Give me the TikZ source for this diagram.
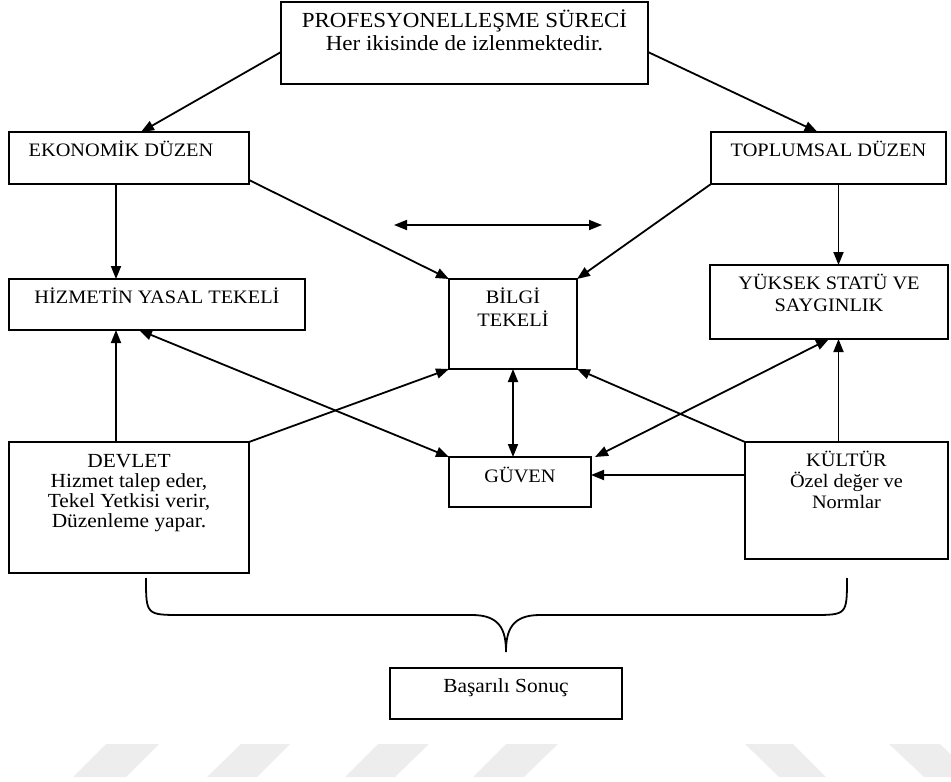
\documentclass[tikz,border=0pt]{standalone}
\usepackage{fontspec}
\setmainfont{Liberation Serif}[FakeStretch=1.07]
\usetikzlibrary{arrows.meta, calc}
\tikzset{
  box/.style={rectangle, draw, line width=1.8pt, inner sep=0pt, outer sep=0pt, anchor=north west, font=\fontsize{19}{21}\selectfont},
  arrow/.style={-{Triangle[length=13pt, width=10pt]}, line width=1.8pt},
  biarrow/.style={{Triangle[length=13pt, width=10pt]}-{Triangle[length=13pt, width=10pt]}, line width=1.8pt},
  bracket/.style={line width=1.8pt},
  stripe/.style={fill=black!7, draw=none},
}
\newcommand{\boxtext}[4][24pt]{\parbox[t][#3][t]{#2}{\centering\rule{0pt}{#1}#4\par}}

\begin{document}
\begin{tikzpicture}[x=1pt, y=-1pt]
  \useasboundingbox (0,0) rectangle (951,782);

  % faint stripes at the foot
  \fill[stripe] (106,744) -- (159,744) -- (126,777) -- (73,777) -- cycle;
  \fill[stripe] (241,744) -- (290,744) -- (257,777) -- (207,777) -- cycle;
  \fill[stripe] (378,744) -- (429,744) -- (395,777) -- (345,777) -- cycle;
  \fill[stripe] (506,744) -- (558,744) -- (524,777) -- (473,777) -- cycle;
  \fill[stripe] (745,744) -- (793,744) -- (826,777) -- (779,777) -- cycle;
  \fill[stripe] (889,744) -- (940,744) -- (975,777) -- (924,777) -- cycle;

  % boxes
  \node[box, font=\fontsize{21.5}{23}\selectfont] (proc) at (281,2)
    {\boxtext[25pt]{367pt}{82pt}{PROFESYONELLEŞME SÜRECİ\\Her ikisinde de izlenmektedir.}};
  \node[box] (ekon) at (9,132) {\boxtext{240pt}{52pt}{\hspace*{-16pt}EKONOMİK DÜZEN}};
  \node[box] (topl) at (711,132) {\boxtext{235pt}{52pt}{TOPLUMSAL DÜZEN}};
  \node[box] (hizm) at (9,279) {\boxtext{296pt}{51pt}{HİZMETİN YASAL TEKELİ}};
  \node[box] (bilgi) at (449,279) {\boxtext{128pt}{90pt}{BİLGİ\\[2pt]TEKELİ}};
  \node[box] (yuksek) at (710,265) {\boxtext{238pt}{74pt}{YÜKSEK STATÜ VE\\[1pt]SAYGINLIK}};
  \node[box, font=\fontsize{20}{20}\selectfont] (devlet) at (9,442)
    {\boxtext[25pt]{240pt}{131pt}{DEVLET\\Hizmet talep eder,\\Tekel Yetkisi verir,\\Düzenleme yapar.}};
  \node[box] (guven) at (449,457) {\boxtext[25pt]{142pt}{50pt}{GÜVEN}};
  \node[box] (kultur) at (745,442) {\boxtext{203pt}{117pt}{KÜLTÜR\\Özel değer ve\\Normlar}};
  \node[box, font=\fontsize{20}{22}\selectfont] (sonuc) at (390,668) {\boxtext{232pt}{51pt}{Başarılı Sonuç}};

  % connectors
  \draw[arrow] ([yshift=-9pt]proc.west) -- ([xshift=12pt]ekon.north);
  \draw[arrow] ([yshift=-9pt]proc.east) -- ([xshift=-11pt]topl.north);
  \draw[arrow] ([xshift=-13pt]ekon.south) -- ([xshift=-13pt]ekon.south |- hizm.north);
  \draw[arrow] ([yshift=4pt]ekon.south east) -- (bilgi.north west);
  \draw[arrow] (topl.south west) -- (bilgi.north east);
  \draw[arrow] ([xshift=10pt]topl.south) -- ([xshift=10pt]topl.south |- yuksek.north);
  \draw[arrow] ([xshift=-13pt]devlet.north) -- ([xshift=-13pt]devlet.north |- hizm.south);
  \draw[biarrow] ([xshift=-18pt]hizm.south) -- (guven.north west);
  \draw[arrow] (devlet.north east) -- (bilgi.south west);
  \draw[biarrow] (bilgi.south) -- (bilgi.south |- guven.north);
  \draw[arrow] (kultur.north west) -- (bilgi.south east);
  \draw[biarrow] (yuksek.south) -- ([xshift=4pt]guven.north east);
  \draw[arrow] ([xshift=-8pt]kultur.north) -- ([xshift=-8pt]kultur.north |- yuksek.south);
  \coordinate (gin) at ([yshift=7pt]guven.east);
  \draw[arrow] (gin -| kultur.west) -- (gin);

  % free double arrow
  \coordinate (hl) at (394,225);
  \coordinate (hr) at (602,225);
  \draw[biarrow] (hl) -- (hr);

  % brace
  \draw[bracket] (146,578) .. controls (146,615) .. (182,615) -- (472,615)
    .. controls (500,615) and (506,630) .. (506,652)
    .. controls (506,630) and (512,615) .. (540,615) -- (812,615)
    .. controls (847,615) .. (847,578);
\end{tikzpicture}
\end{document}
